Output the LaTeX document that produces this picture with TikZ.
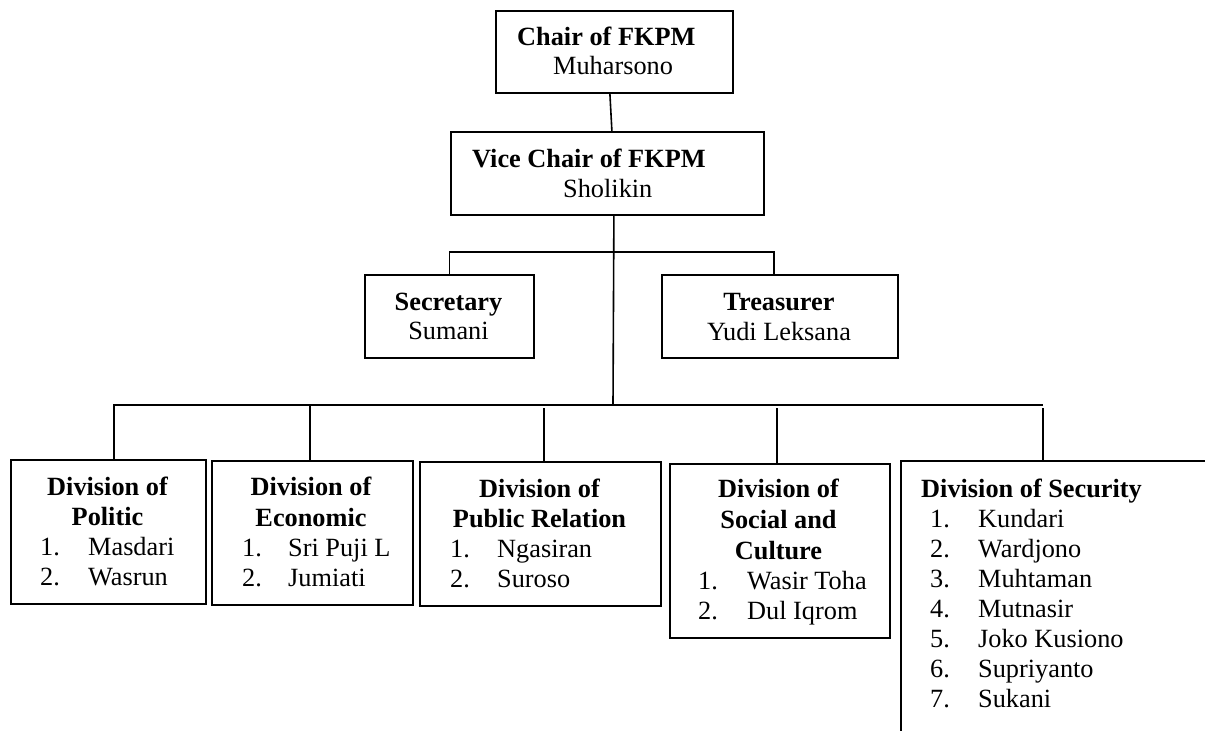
\documentclass[tikz,border=0pt]{standalone}
\usepackage{fontspec}
\setmainfont{Liberation Serif}
\begin{document}
\begin{tikzpicture}[x=1pt,y=-1pt,
  every node/.style={font=\fontsize{26.3}{30}\selectfont, inner sep=0pt},
  box/.style={draw, line width=1.8pt, anchor=north west, inner sep=0pt},
  link/.style={line width=1.6pt},
  ttl/.style={font=\fontsize{26.3}{30}\selectfont\bfseries, anchor=base},
  ttlw/.style={font=\fontsize{26.3}{30}\selectfont\bfseries, anchor=base west},
  ctr/.style={anchor=base},
  lft/.style={anchor=base west}]
\useasboundingbox (0,0) rectangle (1205,731);

% ---- boxes ----
\node[box, minimum width=237pt, minimum height=82pt] (chair) at (495,10) {};
\node[box, minimum width=313pt, minimum height=83pt] (vice)  at (450,131) {};
\node[box, minimum width=169pt, minimum height=83pt] (sec)   at (364,274) {};
\node[box, minimum width=236pt, minimum height=83pt] (tre)   at (661,274) {};
\node[box, minimum width=195pt, minimum height=144pt] (pol)  at (10,459) {};
\node[box, minimum width=201pt, minimum height=144pt] (eco)  at (211,460) {};
\node[box, minimum width=241pt, minimum height=144pt] (pub)  at (419,461) {};
\node[box, minimum width=220pt, minimum height=174pt] (soc)  at (669,463) {};
% security division: open to the right and bottom
\node[anchor=north west, minimum width=304pt, minimum height=270pt] (secu) at (901,461) {};
\draw[line width=1.8pt] (secu.north east) -- (secu.north west) -- (secu.south west);

% ---- connectors ----
\draw[link] ([xshift=-4.5pt]chair.south) -- ([xshift=4.5pt]vice.north);
\coordinate (bus) at (613,405);
\draw[link] ([xshift=6.5pt]vice.south) -- (bus);
\draw[link] (sec.north) -- ++(0,-22) -| ([xshift=-6pt]tre.north);
\draw[link] ([xshift=5.5pt]pol.north) |- ([xshift=142pt]secu.north west |- bus);
\draw[link] ([xshift=-2.5pt]eco.north) -- ++(0,-55);
\draw[link] ([xshift=3.5pt]pub.north) -- ++(0,-53);
\draw[link] ([xshift=-3pt]soc.north) -- ++(0,-55);
\draw[link] ([xshift=142pt]secu.north west) -- ++(0,-53);

% ---- texts ----
\node[ttlw] (chairT) at (517,45) {Chair of FKPM};
\node[lft]  (chairN) at (553,74) {Muharsono};
\node[ttlw] (viceT) at (472,167) {Vice Chair of FKPM};
\node[lft]  (viceN) at (563,197) {Sholikin};
\node[ttl] (secT) at (448.5,310) {Secretary};
\node[ctr] (secN) at (448.5,339) {Sumani};
\node[ttl] (treT) at (779,310) {Treasurer};
\node[ctr] (treN) at (779,340) {Yudi Leksana};

\node[ttl] (polT1) at (107.5,495) {Division of};
\node[ttl] (polT2) at (107.5,525) {Politic};
\node[lft] (polA1) at (40,555) {1.};  \node[lft] (polB1) at (88,555) {Masdari};
\node[lft] (polA2) at (40,585) {2.};  \node[lft] (polB2) at (88,585) {Wasrun};

\node[ttl] (ecoT1) at (311,495) {Division of};
\node[ttl] (ecoT2) at (311,526) {Economic};
\node[lft] (ecoA1) at (242,556) {1.}; \node[lft] (ecoB1) at (288,556) {Sri Puji L};
\node[lft] (ecoA2) at (242,586) {2.}; \node[lft] (ecoB2) at (288,586) {Jumiati};

\node[ttl] (pubT1) at (539.5,497) {Division of};
\node[ttl] (pubT2) at (539.5,527) {Public Relation};
\node[lft] (pubA1) at (450,557) {1.}; \node[lft] (pubB1) at (497,557) {Ngasiran};
\node[lft] (pubA2) at (450,587) {2.}; \node[lft] (pubB2) at (497,587) {Suroso};

\node[ttl] (socT1) at (778.5,497) {Division of};
\node[ttl] (socT2) at (778.5,528) {Social and};
\node[ttl] (socT3) at (778.5,559) {Culture};
\node[lft] (socA1) at (698,589) {1.}; \node[lft] (socB1) at (747,589) {Wasir Toha};
\node[lft] (socA2) at (698,619) {2.}; \node[lft] (socB2) at (747,619) {Dul Iqrom};

\node[ttlw] (secuT) at (921,497) {Division of Security};
\foreach \n/\who [count=\k from 0] in {1/Kundari,2/Wardjono,3/Muhtaman,4/Mutnasir,5/Joko Kusiono,6/Supriyanto,7/Sukani}{
  \node[lft] (secuA\n) at (930,527+30*\k) {\n.};
  \node[lft] (secuB\n) at (978,527+30*\k) {\who};
}
\end{tikzpicture}
\end{document}
